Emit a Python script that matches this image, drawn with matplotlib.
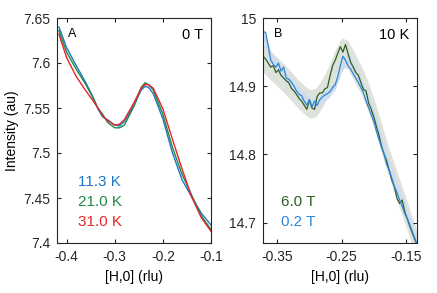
import numpy as np
import matplotlib.pyplot as plt

plt.rcParams['font.family'] = ['Liberation Sans', 'DejaVu Sans']

# panel A: temperature dependence at 0 T
h_a = [-0.416, -0.40, -0.38, -0.36, -0.345, -0.335, -0.325, -0.315, -0.30, -0.29,
       -0.28, -0.26, -0.245, -0.237, -0.23, -0.22, -0.20, -0.18, -0.16, -0.14,
       -0.12, -0.10]
i_11k = [7.640, 7.617, 7.597, 7.578, 7.562, 7.549, 7.540, 7.537, 7.531, 7.530,
         7.535, 7.553, 7.570, 7.574, 7.573, 7.566, 7.538, 7.500, 7.470, 7.451,
         7.433, 7.420]
i_21k = [7.636, 7.612, 7.593, 7.576, 7.561, 7.550, 7.543, 7.534, 7.528, 7.528,
         7.531, 7.552, 7.573, 7.578, 7.576, 7.570, 7.543, 7.506, 7.476, 7.453,
         7.430, 7.415]
i_31k = [7.632, 7.606, 7.585, 7.569, 7.558, 7.550, 7.541, 7.536, 7.531, 7.532,
         7.537, 7.556, 7.572, 7.576, 7.576, 7.572, 7.549, 7.515, 7.482, 7.451,
         7.428, 7.413]

# panel B: field dependence at 10 K
h_b = [-0.372, -0.368, -0.364, -0.360, -0.356, -0.352, -0.348, -0.344, -0.340, -0.336,
       -0.332, -0.328, -0.324, -0.320, -0.316, -0.312, -0.308, -0.304, -0.300, -0.296,
       -0.292, -0.288, -0.284, -0.280, -0.276, -0.272, -0.268, -0.264, -0.260, -0.256,
       -0.252, -0.248, -0.244, -0.240, -0.236, -0.232, -0.228, -0.224, -0.220, -0.216,
       -0.212, -0.208, -0.204, -0.200, -0.196, -0.192, -0.188, -0.184, -0.180, -0.176,
       -0.172, -0.168, -0.164, -0.160, -0.156, -0.152, -0.148, -0.144, -0.140, -0.136,
       -0.133]
i_6t = [14.944, 14.940, 14.934, 14.928, 14.930, 14.920, 14.924, 14.916, 14.912, 14.908,
        14.905, 14.897, 14.893, 14.888, 14.882, 14.878, 14.872, 14.866, 14.880, 14.868,
        14.866, 14.885, 14.890, 14.890, 14.896, 14.898, 14.915, 14.930, 14.938, 14.948,
        14.958, 14.950, 14.961, 14.948, 14.935, 14.928, 14.920, 14.916, 14.905, 14.895,
        14.893, 14.875, 14.866, 14.855, 14.841, 14.828, 14.812, 14.800, 14.790, 14.776,
        14.762, 14.752, 14.735, 14.728, 14.733, 14.716, 14.705, 14.694, 14.684, 14.674,
        14.668]
i_02t = [14.980, 14.979, 14.960, 14.938, 14.932, 14.928, 14.934, 14.922, 14.928, 14.912,
         14.910, 14.906, 14.900, 14.893, 14.888, 14.886, 14.878, 14.872, 14.880, 14.870,
         14.878, 14.872, 14.880, 14.884, 14.887, 14.889, 14.892, 14.898, 14.902, 14.914,
         14.930, 14.944, 14.938, 14.930, 14.925, 14.918, 14.912, 14.905, 14.898, 14.890,
         14.878, 14.868, 14.858, 14.848, 14.834, 14.822, 14.810, 14.800, 14.785, 14.776,
         14.765, 14.753, 14.744, 14.733, 14.724, 14.713, 14.706, 14.696, 14.686, 14.676,
         14.668]

# smooth envelopes of the uncertainty bands
h_band = [-0.372, -0.36, -0.345, -0.33, -0.315, -0.30, -0.29, -0.28, -0.27, -0.26,
          -0.25, -0.24, -0.23, -0.22, -0.21, -0.20, -0.19, -0.18, -0.17, -0.16,
          -0.15, -0.14, -0.133]
band_6t = [14.942, 14.930, 14.917, 14.902, 14.886, 14.874, 14.876, 14.890, 14.908, 14.932,
           14.950, 14.946, 14.928, 14.910, 14.888, 14.861, 14.830, 14.798, 14.770, 14.742,
           14.715, 14.686, 14.666]
band_02t = [14.975, 14.945, 14.922, 14.906, 14.890, 14.876, 14.875, 14.882, 14.890, 14.902,
            14.928, 14.942, 14.925, 14.905, 14.885, 14.858, 14.828, 14.796, 14.770, 14.744,
            14.717, 14.690, 14.668]
band_w_6t = 0.021
band_w_02t = 0.007

c_blue = '#1f77c8'
c_green = '#1f8a45'
c_red = '#e8232a'
c_dkgreen = '#2e5e22'
c_ltblue = '#2a86d6'

fig = plt.figure(figsize=(4.37, 2.93), dpi=100)
ax1 = fig.add_axes([57 / 437, 1 - 243 / 293, 154 / 437, 225 / 293])
ax2 = fig.add_axes([263 / 437, 1 - 243 / 293, 154 / 437, 225 / 293])

ax1.plot(h_a, i_11k, color=c_blue, lw=1.0)
ax1.plot(h_a, i_21k, color=c_green, lw=1.0)
ax1.plot(h_a, i_31k, color=c_red, lw=1.0)
ax1.set_xlim(-0.42, -0.1)
ax1.set_ylim(7.4, 7.65)
ax1.set_xticks([-0.4, -0.3, -0.2, -0.1])
ax1.set_xticklabels(['-0.4', '-0.3', '-0.2', '-0.1'])
ax1.set_yticks([7.4, 7.45, 7.5, 7.55, 7.6, 7.65])
ax1.set_yticklabels(['7.4', '7.45', '7.5', '7.55', '7.6', '7.65'])
ax1.set_ylabel('Intensity (au)', fontsize=10, labelpad=3)
ax1.set_xlabel('[H,0] (rlu)', fontsize=10, labelpad=4)
ax1.text(0.07, 0.955, 'A', transform=ax1.transAxes, fontsize=9, va='top', ha='left')
ax1.text(0.95, 0.955, '0 T', transform=ax1.transAxes, fontsize=10.5, va='top', ha='right')
for k, (lab, c) in enumerate([('11.3 K', c_blue), ('21.0 K', c_green), ('31.0 K', c_red)]):
    ax1.text(0.135, 0.27 - k * 0.089, lab, transform=ax1.transAxes, fontsize=11,
             color=c, va='center', ha='left')

ax2.fill_between(h_band, np.array(band_6t) - band_w_6t, np.array(band_6t) + band_w_6t,
                 color='#dde2da', lw=0)
ax2.fill_between(h_band, np.array(band_02t) - band_w_02t, np.array(band_02t) + band_w_02t,
                 color='#cfdcef', lw=0)
ax2.plot(h_b, i_6t, color=c_dkgreen, lw=0.9)
ax2.plot(h_b, i_02t, color=c_ltblue, lw=0.9)
ax2.set_xlim(-0.372, -0.133)
ax2.set_ylim(14.67, 15.0)
ax2.set_xticks([-0.35, -0.25, -0.15])
ax2.set_xticklabels(['-0.35', '-0.25', '-0.15'])
ax2.set_yticks([14.7, 14.8, 14.9, 15.0])
ax2.set_yticklabels(['14.7', '14.8', '14.9', '15'])
ax2.set_xlabel('[H,0] (rlu)', fontsize=10, labelpad=4)
ax2.text(0.07, 0.955, 'B', transform=ax2.transAxes, fontsize=9, va='top', ha='left')
ax2.text(0.95, 0.955, '10 K', transform=ax2.transAxes, fontsize=10.5, va='top', ha='right')
ax2.text(0.115, 0.18, '6.0 T', transform=ax2.transAxes, fontsize=11, color=c_dkgreen,
         va='center', ha='left')
ax2.text(0.115, 0.095, '0.2 T', transform=ax2.transAxes, fontsize=11, color=c_ltblue,
         va='center', ha='left')

for ax in (ax1, ax2):
    ax.tick_params(direction='in', top=True, right=True, length=3, width=0.8,
                   labelsize=10, pad=5, colors='#262626')
    for s in ax.spines.values():
        s.set_color('#262626')
        s.set_linewidth(0.8)

fig.savefig('out.png', dpi=100)
